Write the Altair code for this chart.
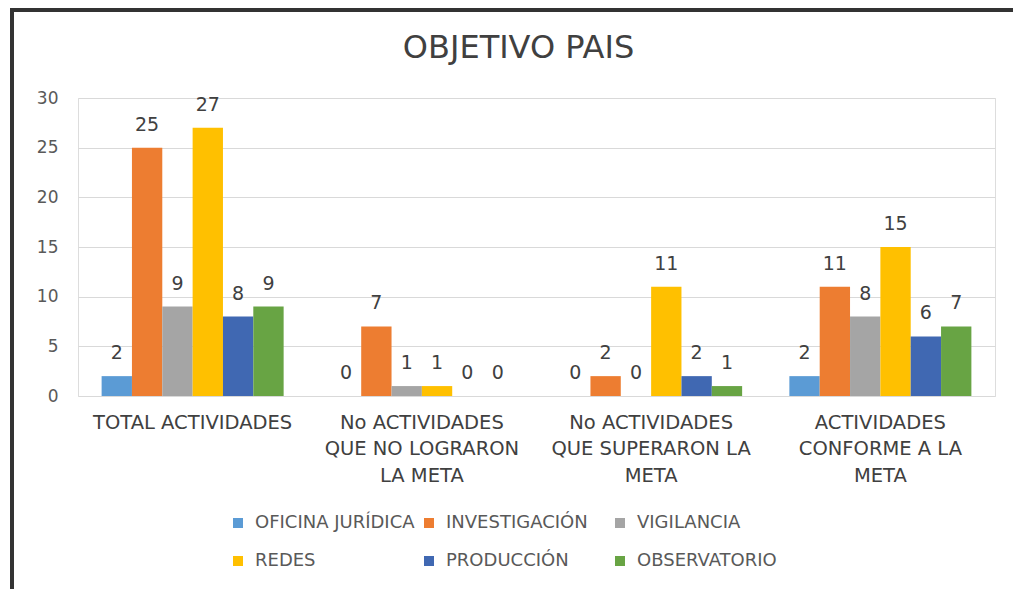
import altair as alt
import pandas as pd

categories = [
    "TOTAL ACTIVIDADES",
    "No ACTIVIDADES|QUE NO LOGRARON|LA META",
    "No ACTIVIDADES|QUE SUPERARON  LA|META",
    "ACTIVIDADES|CONFORME A LA|META",
]
series = ["OFICINA JURÍDICA", "INVESTIGACIÓN", "VIGILANCIA", "REDES", "PRODUCCIÓN", "OBSERVATORIO"]
colors = ["#5B9BD5", "#ED7D31", "#A5A5A5", "#FFC000", "#4068B2", "#68A444"]

oficina = [2, 0, 0, 2]
investigacion = [25, 7, 2, 11]
vigilancia = [9, 1, 0, 8]
redes = [27, 1, 11, 15]
produccion = [8, 0, 2, 6]
observatorio = [9, 0, 1, 7]

values = [oficina, investigacion, vigilancia, redes, produccion, observatorio]
rows = []
for s, vals in zip(series, values):
    for c, v in zip(categories, vals):
        rows.append({"cat": c, "serie": s, "val": v})
df = pd.DataFrame(rows)

FONT = "DejaVu Sans"

x_enc = alt.X(
    "cat:N",
    sort=categories,
    title=None,
    scale=alt.Scale(paddingInner=0.206, paddingOuter=0.103),
    axis=alt.Axis(
        labelAngle=0,
        labelExpr="split(datum.label, '|')",
        labelFontSize=19.5,
        labelColor="#404040",
        labelFont=FONT,
        labelLineHeight=26.5,
        labelPadding=17,
        labelBaseline="top",
        domain=False,
        ticks=False,
        labelLimit=300,
    ),
)
xoff = alt.XOffset("serie:N", sort=series)
y_enc = alt.Y(
    "val:Q",
    title=None,
    scale=alt.Scale(domain=[0, 30]),
    axis=alt.Axis(
        values=[0, 5, 10, 15, 20, 25, 30],
        gridColor="#D9D9D9",
        gridWidth=1,
        domain=False,
        ticks=False,
        labelFontSize=17,
        labelColor="#595959",
        labelFont=FONT,
        labelPadding=20,
    ),
)
color_enc = alt.Color(
    "serie:N",
    sort=series,
    scale=alt.Scale(domain=series, range=colors),
    legend=alt.Legend(
        title=None,
        orient="none",
        direction="horizontal",
        legendX=151,
        legendY=416,
        columns=3,
        gridAlign="all",
        columnPadding=5,
        rowPadding=20,
        symbolType="square",
        symbolSize=100,
        symbolStrokeWidth=0,
        labelFontSize=18,
        labelColor="#595959",
        labelFont=FONT,
        labelOffset=8,
        labelLimit=300,
    ),
)

base = alt.Chart(df)
bars = base.mark_bar().encode(x=x_enc, xOffset=xoff, y=y_enc, color=color_enc)
labels = base.mark_text(
    dy=-17, baseline="alphabetic", fontSize=19, font=FONT, color="#404040"
).encode(x=x_enc, xOffset=xoff, y=y_enc, text="val:Q")

left_border = alt.Chart(df).mark_rule(color="#333333", strokeWidth=4).encode(
    x=alt.value(-66), y=alt.value(-88), y2=alt.value(500)
)
top_border = alt.Chart(df).mark_rule(color="#333333", strokeWidth=4).encode(
    x=alt.value(-68), x2=alt.value(940), y=alt.value(-88)
)

chart = (
    alt.layer(bars, labels, left_border, top_border)
    .properties(
        width=917,
        height=298,
        padding={"left": 78, "top": 98, "right": 18, "bottom": 193},
        autosize="none",
        title=alt.TitleParams(
            "OBJETIVO PAIS",
            fontSize=32,
            font=FONT,
            fontWeight="normal",
            color="#404040",
            anchor="middle",
            dx=-18,
            offset=-82,
            baseline="alphabetic",
        ),
    )
    .configure_view(stroke=None)
    .configure(background="white")
)

chart.save("out.html", embed_options={"renderer": "svg", "actions": False})
